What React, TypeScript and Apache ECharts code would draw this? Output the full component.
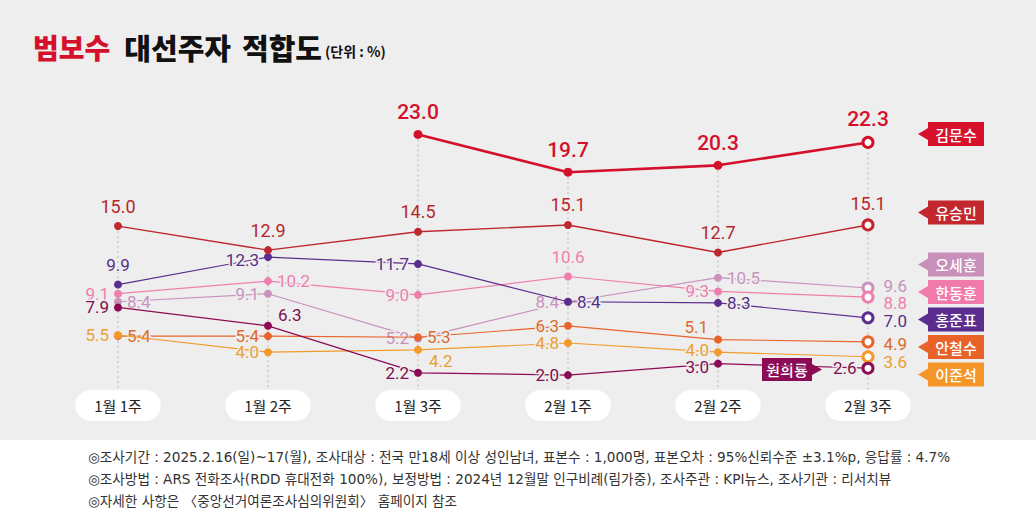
import React, { useEffect, useRef } from 'react';
import * as echarts from 'echarts';

const categories = ['1월 1주', '1월 2주', '1월 3주', '2월 1주', '2월 2주', '2월 3주'];
const kimMoonsoo = [null, null, 23.0, 19.7, 20.3, 22.3];
const yooSeungmin = [15.0, 12.9, 14.5, 15.1, 12.7, 15.1];
const ohSehoon = [8.4, 9.1, 5.2, 8.4, 10.5, 9.6];
const hanDonghoon = [9.1, 10.2, 9.0, 10.6, 9.3, 8.8];
const hongJunpyo = [9.9, 12.3, 11.7, 8.4, 8.3, 7.0];
const ahnCheolsoo = [5.4, 5.4, 5.3, 6.3, 5.1, 4.9];
const leeJunseok = [5.5, 4.0, 4.2, 4.8, 4.0, 3.6];
const wonHeeryong = [7.9, 6.3, 2.2, 2.0, 3.0, 2.6];

const footerLines = [
  '◎조사기간 : 2025.2.16(일)~17(월), 조사대상 : 전국 만18세 이상 성인남녀, 표본수 : 1,000명, 표본오차 : 95%신뢰수준 ±3.1%p, 응답률 : 4.7%',
  '◎조사방법 : ARS 전화조사(RDD 휴대전화 100%), 보정방법 : 2024년 12월말 인구비례(림가중), 조사주관 : KPI뉴스, 조사기관 : 리서치뷰',
  '◎자세한 사항은 〈중앙선거여론조사심의위원회〉 홈페이지 참조',
];

type Pos = 'top' | 'left' | 'right' | 'topRight' | 'bottomRight' | 'topLeft' | 'leftLow' | 'leftUp';

const BG = '#eeeeee';
const FONT = 'Roboto, "Noto Sans CJK KR", sans-serif';
const KFONT = '"Noto Sans CJK KR", sans-serif';

interface SeriesSpec {
  name: string;
  data: (number | null)[];
  color: string;
  labelColor: string;
  width: number;
  fontSize: number;
  fontWeight: number | string;
  pos: Pos[];
  endOffset?: number;
  z: number;
}

const specs: SeriesSpec[] = [
  { name: '김문수', data: kimMoonsoo, color: '#d4102c', labelColor: '#d4102c', width: 2.6, fontSize: 21, fontWeight: 500, pos: ['top', 'top', 'top', 'top', 'top', 'top'], z: 10 },
  { name: '유승민', data: yooSeungmin, color: '#c0262e', labelColor: '#b8262d', width: 1.4, fontSize: 18, fontWeight: 400, pos: ['top', 'top', 'top', 'top', 'top', 'top'], z: 9 },
  { name: '오세훈', data: ohSehoon, color: '#c993bd', labelColor: '#c793bd', width: 1.2, fontSize: 17, fontWeight: 400, pos: ['right', 'left', 'left', 'left', 'right', 'right'], endOffset: -2, z: 3 },
  { name: '한동훈', data: hanDonghoon, color: '#ef7eac', labelColor: '#ee80ae', width: 1.2, fontSize: 17, fontWeight: 400, pos: ['left', 'right', 'left', 'top', 'left', 'right'], endOffset: 6, z: 4 },
  { name: '홍준표', data: hongJunpyo, color: '#5b2d8e', labelColor: '#553088', width: 1.2, fontSize: 17, fontWeight: 400, pos: ['top', 'leftLow', 'left', 'right', 'right', 'right'], endOffset: 3, z: 5 },
  { name: '안철수', data: ahnCheolsoo, color: '#e8642a', labelColor: '#dc6a2c', width: 1.2, fontSize: 17, fontWeight: 400, pos: ['right', 'left', 'right', 'left', 'topLeft', 'right'], endOffset: 2, z: 6 },
  { name: '이준석', data: leeJunseok, color: '#f39a2c', labelColor: '#eaa032', width: 1.2, fontSize: 17, fontWeight: 400, pos: ['left', 'left', 'bottomRight', 'left', 'leftUp', 'right'], endOffset: 5, z: 7 },
  { name: '원희룡', data: wonHeeryong, color: '#8c0b55', labelColor: '#7e0c4e', width: 1.2, fontSize: 17, fontWeight: 400, pos: ['left', 'topRight', 'left', 'left', 'leftLow', 'left'], z: 8 },
];

const tagLayout = [
  { name: '김문수', color: '#d7102c', y: 134 },
  { name: '유승민', color: '#c1272d', y: 212.5 },
  { name: '오세훈', color: '#c98fbb', y: 264.5 },
  { name: '한동훈', color: '#f07aaa', y: 292 },
  { name: '홍준표', color: '#5b2d8e', y: 319.5 },
  { name: '안철수', color: '#e9622a', y: 347 },
  { name: '이준석', color: '#f4962a', y: 374.5 },
];

function labelFor(p: Pos, isLast: boolean, endOffset: number) {
  switch (p) {
    case 'top':
      return { position: 'top', distance: isLast ? 6 : 7 };
    case 'left':
      return { position: 'left', distance: 5 };
    case 'leftLow':
      return { position: 'left', distance: 5, offset: [0, 3] };
    case 'leftUp':
      return { position: 'left', distance: 5, offset: [0, -2] };
    case 'right':
      return isLast ? { position: 'right', distance: 9, offset: [0, endOffset] } : { position: 'right', distance: 5 };
    case 'topRight':
      return { position: 'right', distance: 6, offset: [0, -11] };
    case 'bottomRight':
      return { position: 'right', distance: 7, offset: [0, 11] };
    case 'topLeft':
      return { position: 'left', distance: 6, offset: [0, -13] };
  }
}

function buildSeries(s: SeriesSpec) {
  const last = s.data.length - 1;
  return {
    type: 'line',
    name: s.name,
    z: s.z,
    symbol: 'circle',
    symbolSize: s.name === '김문수' ? 9 : 8,
    showAllSymbol: true,
    connectNulls: false,
    lineStyle: { color: s.color, width: s.width },
    itemStyle: { color: s.color },
    emphasis: { disabled: true },
    label: {
      show: true,
      color: s.labelColor,
      fontSize: s.fontSize,
      fontWeight: s.fontWeight,
      fontFamily: FONT,
      textBorderColor: BG,
      textBorderWidth: 3,
      formatter: (p: any) => Number(p.value).toFixed(1),
    },
    data: s.data.map((v, i) => {
      if (v == null) return '-';
      const item: any = { value: v, label: labelFor(s.pos[i], i === last, s.endOffset ?? 0) };
      if (i === last) {
        item.symbolSize = 10;
        item.itemStyle = { color: '#ffffff', borderColor: s.color, borderWidth: 3 };
      }
      return item;
    }),
  };
}

function tagGraphic(name: string, color: string, y: number) {
  const h = 12;
  const x0 = 928;
  const x1 = 984;
  return {
    type: 'group',
    z: 100,
    children: [
      {
        type: 'polygon',
        shape: {
          points: [
            [918, y],
            [x0, y - 6],
            [x0, y - h],
            [x1, y - h],
            [x1, y + h],
            [x0, y + h],
            [x0, y + 6],
          ],
        },
        style: { fill: color },
      },
      {
        type: 'text',
        x: (x0 + x1) / 2,
        y: y,
        style: {
          text: name,
          fill: '#ffffff',
          font: `500 15px ${KFONT}`,
          align: 'center',
          verticalAlign: 'middle',
        },
      },
    ],
  };
}

export default function App() {
  const ref = useRef<HTMLDivElement>(null);

  useEffect(() => {
    document.body.style.margin = '0';
    const chart = echarts.init(ref.current!, null, { renderer: 'svg' });
    const all = specs.map((s) => s.data);
    const colTops = categories.map((_, i) => [
      i,
      Math.max(...all.map((d) => (d[i] == null ? -Infinity : (d[i] as number)))),
    ]);
    const yMin = 0.7;

    const option: any = {
      animation: false,
      backgroundColor: BG,
      textStyle: { fontFamily: FONT },
      title: {
        text: '{a|범보수}{b|대선주자}{b2|적합도}{c|(단위 : %)}',
        left: 28,
        top: 27,
        textStyle: {
          rich: {
            a: { fontSize: 28, fontWeight: 900, color: '#d4102c', fontFamily: KFONT },
            b: { fontSize: 29, fontWeight: 900, color: '#111111', fontFamily: KFONT, padding: [0, 0, 0, 14] },
            b2: { fontSize: 29, fontWeight: 900, color: '#111111', fontFamily: KFONT, padding: [0, 0, 0, 11] },
            c: { fontSize: 14, fontWeight: 700, color: '#111111', fontFamily: KFONT, padding: [9, 0, 0, 3] },
          },
        },
      },
      grid: { left: 118, right: 168, top: 100, bottom: 127, containLabel: false },
      xAxis: {
        type: 'category',
        data: categories,
        boundaryGap: false,
        axisLine: { show: false },
        axisTick: { show: false },
        splitLine: { show: false },
        axisLabel: {
          margin: 0,
          color: '#222222',
          fontSize: 15,
          fontFamily: KFONT,
          backgroundColor: '#ffffff',
          borderRadius: 16,
          padding: [7, 19, 7, 19],
          lineHeight: 17,
        },
      },
      yAxis: {
        type: 'value',
        min: yMin,
        max: 26,
        show: false,
        splitLine: { show: false },
      },
      series: [
        {
          type: 'custom',
          z: 1,
          silent: true,
          data: colTops,
          renderItem: (params: any, api: any) => {
            const top = api.coord([api.value(0), api.value(1)]);
            const bottom = api.coord([api.value(0), yMin]);
            return {
              type: 'line',
              shape: { x1: top[0], y1: top[1], x2: top[0], y2: bottom[1] },
              style: { stroke: '#b5b5b5', lineWidth: 1, lineDash: [2, 3] },
            };
          },
        },
        ...specs.map(buildSeries),
      ],
      graphic: [
        {
          type: 'rect',
          z: 0,
          shape: { x: 0, y: 440, width: 1036, height: 77 },
          style: { fill: '#ffffff' },
        },
        ...footerLines.map((t, i) => ({
          type: 'text',
          x: 88,
          y: 457 + i * 22,
          style: {
            text: t,
            fill: '#333333',
            font: `400 13.6px "DejaVu Sans", "Noto Sans CJK KR", sans-serif`,
            verticalAlign: 'middle',
          },
        })),
        ...tagLayout.map((t) => tagGraphic(t.name, t.color, t.y)),
        {
          type: 'group',
          z: 100,
          children: [
            {
              type: 'polygon',
              shape: {
                points: [
                  [762, 358],
                  [812, 358],
                  [812, 364],
                  [822, 369.5],
                  [812, 375],
                  [812, 381],
                  [762, 381],
                ],
              },
              style: { fill: '#8c0b55' },
            },
            {
              type: 'text',
              x: 787,
              y: 369.5,
              style: {
                text: '원희룡',
                fill: '#ffffff',
                font: `500 15px ${KFONT}`,
                align: 'center',
                verticalAlign: 'middle',
              },
            },
          ],
        },
      ],
    };
    chart.setOption(option);
    return () => chart.dispose();
  }, []);

  return <div ref={ref} style={{ width: 1036, height: 517 }} />;
}
